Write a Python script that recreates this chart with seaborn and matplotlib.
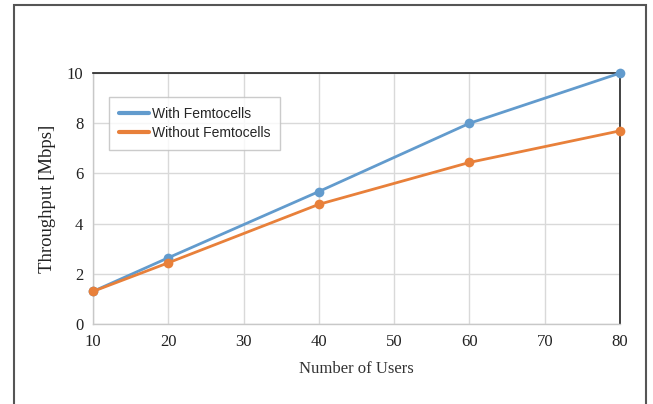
import numpy as np
import pandas as pd
import matplotlib
matplotlib.use("Agg")
import matplotlib.pyplot as plt
import seaborn as sns
from matplotlib.patches import Rectangle

# Values
users = [10, 20, 40, 60, 80]
with_femto = [1.3, 2.64, 5.28, 8.0, 10.0]
without_femto = [1.3, 2.44, 4.77, 6.44, 7.70]
series_names = ["With Femtocells", "Without Femtocells"]
x_ticks = [10, 20, 30, 40, 50, 60, 70, 80]
y_ticks = [0, 2, 4, 6, 8, 10]

df = pd.DataFrame({
    "users": users * 2,
    "throughput": with_femto + without_femto,
    "series": [series_names[0]] * len(users) + [series_names[1]] * len(users),
})

sns.set_style("white")
plt.rcParams["font.family"] = ["Liberation Serif", "DejaVu Serif"]

palette = {series_names[0]: "#629bcd", series_names[1]: "#e8803a"}

fig = plt.figure(figsize=(6.53, 4.04), dpi=100)
ax = fig.add_axes([0.1424, 0.198, 0.8071, 0.621])

sns.lineplot(data=df, x="users", y="throughput", hue="series", palette=palette,
             marker="o", markersize=7, markeredgewidth=0, linewidth=2,
             ax=ax, clip_on=False, zorder=3)

ax.set_xlim(10, 80)
ax.set_ylim(0, 10)
ax.set_xticks(x_ticks)
ax.set_yticks(y_ticks)
ax.grid(True, color="#d9d9d9", linewidth=1)
ax.tick_params(axis="both", length=0, labelsize=12, pad=7, colors="#222222")

for side in ["left", "bottom"]:
    ax.spines[side].set_color("#c8c8c8")
    ax.spines[side].set_linewidth(1)
for side in ["top", "right"]:
    ax.spines[side].set_color("#222222")
    ax.spines[side].set_linewidth(1.2)

ax.set_xlabel("Number of Users", fontsize=12, color="#333333", labelpad=8)
ax.set_ylabel("Throughput [Mbps]", fontsize=13.5, color="#222222", labelpad=8)

leg = ax.legend(loc="upper left", bbox_to_anchor=(0.03, 0.904), borderaxespad=0,
                frameon=True, fancybox=False, edgecolor="#bfbfbf", handlelength=2.2,
                handletextpad=0.2, borderpad=0.7, labelspacing=0.35,
                prop={"family": ["Liberation Sans", "DejaVu Sans"], "size": 10})
leg.get_frame().set_linewidth(1)
for line in leg.get_lines():
    line.set_linewidth(3)
    line.set_marker("")

# Outer frame around the figure as in the reference
fig.patches.append(Rectangle((0.022, -0.05), 0.968, 1.037, transform=fig.transFigure,
                             fill=False, edgecolor="#555555", linewidth=1.5))

fig.savefig("out.png", dpi=100)
